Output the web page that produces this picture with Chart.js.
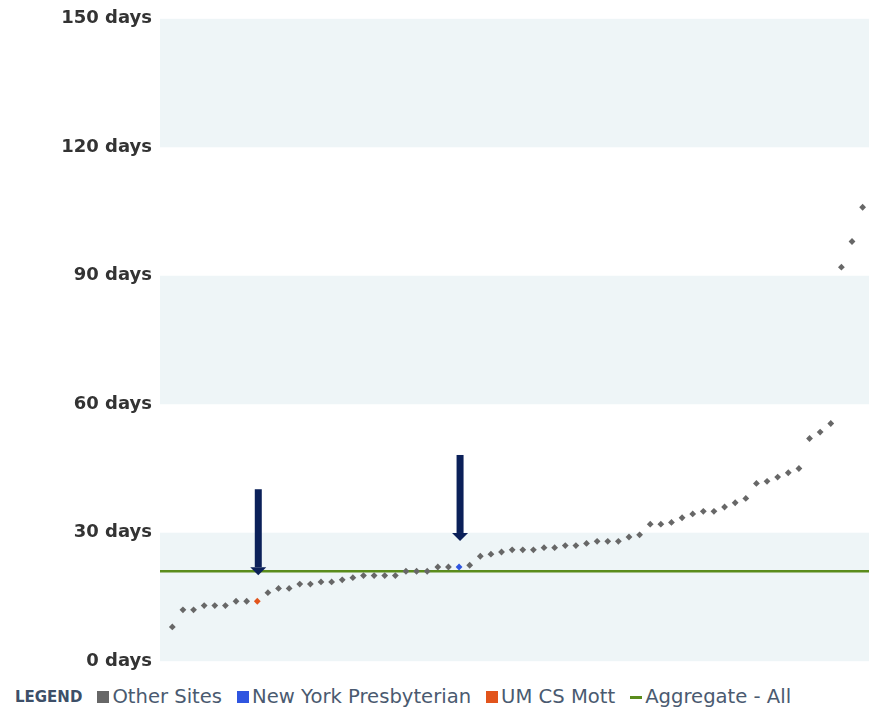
<!DOCTYPE html>
<html>
<head>
<meta charset="utf-8">
<script src="https://cdn.jsdelivr.net/npm/chart.js@4.4.1/dist/chart.umd.min.js"></script>
<style>
  html, body { margin: 0; padding: 0; overflow: hidden; background: #fff; font-family: "DejaVu Sans", sans-serif; }
  #wrap { position: relative; width: 869px; height: 710px; overflow: hidden; }
  #chart { display: block; }
  #legend { position: absolute; left: 15px; top: 686px; display: flex; align-items: center; color: #4a5a70; font-size: 19.6px; line-height: 22px; white-space: nowrap; }
  #legend .title { font-weight: bold; font-size: 15px; color: #3d4f68; margin-right: 15px; }
  #legend .item { display: flex; align-items: center; margin-right: 15px; }
  #legend .sw { display: inline-block; width: 12px; height: 12px; margin-right: 3px; }
  #legend .dash { display: inline-block; width: 12px; height: 3px; margin-right: 3px; }
</style>
</head>
<body>
<div id="wrap">
  <canvas id="chart" width="869" height="680"></canvas>
  <div id="legend"></div>
</div>
<script>
// days per site, sorted
const days = [8, 12, 12, 13, 13, 13, 14, 14, 14, 16, 17, 17, 18, 18, 18.5, 18.5, 19, 19.5, 20, 20,
  20, 20, 21, 21, 21, 22, 22, 22, 22.4, 24.5, 25, 25.5, 26, 26, 26, 26.5, 26.5, 27, 27, 27.5,
  28, 28, 28, 29, 29.5, 32, 32, 32.4, 33.5, 34.4, 35, 35, 36, 37, 38, 41.5, 42, 43, 44, 45,
  52, 53.5, 55.5, 92, 98, 106]
const nypIndex = 27
const mottIndex = 8
const aggregate = 21
const yTicks = [0, 30, 60, 90, 120, 150]
const bands = [[0, 30], [60, 90], [120, 150]]

const xMin = -1.16
const xMax = 65.6

const otherSites = days.map((d, i) => ({ x: i, y: d })).filter(p => p.x !== nypIndex && p.x !== mottIndex)
const nyp = [{ x: nypIndex, y: days[nypIndex] }]
const mott = [{ x: mottIndex, y: days[mottIndex] }]

const bandPlugin = {
  id: 'bands',
  beforeDatasetsDraw(chart) {
    const { ctx, chartArea, scales } = chart
    ctx.save()
    ctx.fillStyle = '#eef5f7'
    bands.forEach(b => {
      const y1 = scales.y.getPixelForValue(b[1])
      const y0 = scales.y.getPixelForValue(b[0])
      ctx.fillRect(chartArea.left, y1, chartArea.right - chartArea.left, y0 - y1)
    })
    ctx.restore()
  }
}

const arrowPlugin = {
  id: 'arrows',
  afterDatasetsDraw(chart) {
    const { ctx, scales } = chart
    ctx.save()
    ctx.fillStyle = '#0b2059'
    ;[mottIndex, nypIndex].forEach(i => {
      const x = scales.x.getPixelForValue(i) + 1
      const py = scales.y.getPixelForValue(days[i])
      const tip = py - 26
      const top = tip - 86
      ctx.fillRect(x - 3.5, top, 7, 86 - 8)
      ctx.beginPath()
      ctx.moveTo(x - 8, tip - 8)
      ctx.lineTo(x + 8, tip - 8)
      ctx.lineTo(x, tip)
      ctx.closePath()
      ctx.fill()
    })
    ctx.restore()
  }
}

const chart = new Chart(document.getElementById('chart').getContext('2d'), {
  type: 'scatter',
  data: {
    datasets: [
      {
        label: 'Mott',
        data: mott,
        pointStyle: 'rectRot',
        pointRadius: 3.4,
        borderWidth: 0,
        backgroundColor: '#e2541c'
      },
      {
        label: 'NYP',
        data: nyp,
        pointStyle: 'rectRot',
        pointRadius: 3.4,
        borderWidth: 0,
        backgroundColor: '#2f55e0'
      },
      {
        label: 'Other Sites',
        data: otherSites,
        pointStyle: 'rectRot',
        pointRadius: 3.4,
        borderWidth: 0,
        backgroundColor: '#676767'
      },
      {
        type: 'line',
        label: 'Aggregate - All',
        data: [{ x: xMin, y: aggregate }, { x: xMax, y: aggregate }],
        borderColor: '#5a8c1c',
        borderWidth: 2.5,
        pointRadius: 0,
        order: 10
      }
    ]
  },
  options: {
    responsive: false,
    animation: false,
    layout: { autoPadding: false, padding: { top: 18, bottom: 12, left: 0, right: 0 } },
    scales: {
      x: {
        type: 'linear',
        min: xMin,
        max: xMax,
        display: false
      },
      y: {
        min: 0,
        max: 150,
        afterBuildTicks(scale) {
          scale.ticks = yTicks.map(v => ({ value: v }))
        },
        afterFit(scale) {
          scale.width = 160
        },
        grid: { display: false, drawTicks: false },
        border: { display: false },
        ticks: {
          padding: 8,
          color: '#333',
          font: { family: 'DejaVu Sans', size: 18, weight: 'bold' },
          callback: v => v + ' days'
        }
      }
    },
    plugins: {
      legend: { display: false },
      tooltip: { enabled: false }
    }
  },
  plugins: [bandPlugin, arrowPlugin]
})

const legendItems = [
  { label: 'Other Sites', color: '#676767', kind: 'sw' },
  { label: 'New York Presbyterian', color: '#2f55e0', kind: 'sw' },
  { label: 'UM CS Mott', color: '#e2541c', kind: 'sw' },
  { label: 'Aggregate - All', color: '#5a8c1c', kind: 'dash' }
]
const legend = document.getElementById('legend')
legend.innerHTML = '<span class="title">LEGEND</span>' + legendItems.map(it =>
  '<span class="item"><span class="' + it.kind + '" style="background:' + it.color + '"></span>' + it.label + '</span>'
).join('')
</script>
</body>
</html>
